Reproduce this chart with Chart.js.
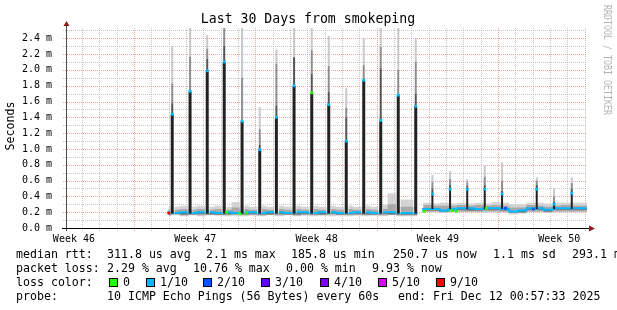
<!DOCTYPE html>
<html lang="en">
    <head>
        <meta charset="UTF-8" />
        <title>Last 30 Days from smokeping</title>
        <style>
            html,
            body {
                margin: 0;
                padding: 0;
                background: #fff;
            }

            canvas {
                display: block;
            }
        </style>
        <script src="https://cdn.jsdelivr.net/npm/chart.js"></script>
    </head>
    <body>
        <canvas id="chart" width="617" height="310"></canvas>
        <script>
            const FONT = "'DejaVu Sans Mono', monospace";

            // x is in days since the start of the 30 day window
            const weekTickDay = [0.4, 7.4, 14.4, 21.4, 28.4];
            const weekLabel = ["Week 46", "Week 47", "Week 48", "Week 49", "Week 50"];
            const yTickValue = [0, 0.2, 0.4, 0.6, 0.8, 1.0, 1.2, 1.4, 1.6, 1.8, 2.0, 2.2, 2.4];
            const yTickLabel = ["0.0 m", "0.2 m", "0.4 m", "0.6 m", "0.8 m", "1.0 m", "1.2 m", "1.4 m", "1.6 m", "1.8 m", "2.0 m", "2.2 m", "2.4 m"];

            // baseline smoke, one value per bin (bin starts at binDay, ms)
            const binDay = [5.85, 6.0, 6.5, 7.0, 7.5, 8.0, 8.5, 9.0, 9.5, 10.0,
                10.5, 11.0, 11.5, 12.0, 12.5, 13.0, 13.5, 14.0, 14.5, 15.0,
                15.5, 16.0, 16.5, 17.0, 17.5, 18.0, 18.5, 19.0, 19.5, 20.22,
                20.3, 20.55, 21.0, 21.5, 22.0, 22.5, 23.0, 23.5, 24.0, 24.5,
                25.0, 25.5, 26.0, 26.5, 27.0, 27.5, 28.0, 28.5, 29.0, 29.5, 30.0];
            const smokeHi = [0.25, 0.28, 0.27, 0.28, 0.27, 0.28, 0.27, 0.28, 0.27, 0.33,
                0.28, 0.27, 0.28, 0.27, 0.28, 0.27, 0.28, 0.27, 0.28, 0.27,
                0.28, 0.27, 0.28, 0.27, 0.28, 0.27, 0.29, 0.44, 0.36, 0.36,
                null, 0.29, 0.32, 0.31, 0.32, 0.31, 0.32, 0.31, 0.32, 0.31,
                0.33, 0.32, 0.30, 0.30, 0.32, 0.32, 0.31, 0.32, 0.32, 0.32, 0.32];
            const smokeLo = [0.16, 0.15, 0.16, 0.15, 0.16, 0.15, 0.16, 0.16, 0.15, 0.16,
                0.15, 0.16, 0.15, 0.16, 0.15, 0.16, 0.15, 0.16, 0.15, 0.16,
                0.15, 0.16, 0.15, 0.16, 0.15, 0.16, 0.15, 0.16, 0.15, 0.15,
                null, 0.19, 0.20, 0.20, 0.19, 0.20, 0.20, 0.20, 0.20, 0.20,
                0.20, 0.19, 0.17, 0.18, 0.20, 0.20, 0.19, 0.20, 0.20, 0.20, 0.20];
            const midHi = [0.22, 0.24, 0.23, 0.24, 0.23, 0.24, 0.23, 0.24, 0.23, 0.26,
                0.24, 0.23, 0.24, 0.23, 0.24, 0.23, 0.24, 0.23, 0.24, 0.23,
                0.24, 0.23, 0.24, 0.23, 0.24, 0.23, 0.24, 0.30, 0.27, 0.27,
                null, 0.25, 0.29, 0.28, 0.28, 0.28, 0.29, 0.28, 0.29, 0.28,
                0.29, 0.28, 0.26, 0.26, 0.29, 0.28, 0.27, 0.28, 0.29, 0.28, 0.28];
            const midLo = [0.17, 0.16, 0.17, 0.16, 0.17, 0.16, 0.17, 0.16, 0.17, 0.16,
                0.17, 0.16, 0.16, 0.17, 0.16, 0.17, 0.16, 0.16, 0.17, 0.16,
                0.17, 0.16, 0.17, 0.16, 0.17, 0.16, 0.16, 0.17, 0.16, 0.16,
                null, 0.20, 0.21, 0.21, 0.20, 0.21, 0.21, 0.21, 0.21, 0.21,
                0.21, 0.21, 0.19, 0.19, 0.21, 0.21, 0.20, 0.21, 0.21, 0.21, 0.21];
            const darkLo = [0.18, 0.17, 0.18, 0.17, 0.17, 0.18, 0.17, 0.17, 0.17, 0.18,
                0.17, 0.18, 0.17, 0.17, 0.18, 0.17, 0.17, 0.18, 0.17, 0.17,
                0.18, 0.17, 0.17, 0.18, 0.17, 0.17, 0.18, 0.17, 0.17, 0.17,
                null, 0.20, 0.22, 0.22, 0.21, 0.22, 0.23, 0.22, 0.22, 0.23,
                0.23, 0.22, 0.20, 0.20, 0.23, 0.23, 0.21, 0.23, 0.23, 0.23, 0.23];
            const median = [0.19, 0.20, 0.19, 0.20, 0.19, 0.20, 0.20, 0.19, 0.20, 0.19,
                0.20, 0.20, 0.19, 0.20, 0.20, 0.19, 0.20, 0.20, 0.19, 0.20,
                0.20, 0.19, 0.19, 0.20, 0.20, 0.19, 0.20, 0.20, 0.19, 0.19,
                null, 0.21, 0.24, 0.24, 0.22, 0.24, 0.25, 0.25, 0.24, 0.25,
                0.25, 0.24, 0.21, 0.22, 0.25, 0.25, 0.23, 0.25, 0.25, 0.25, 0.25];

            // daily spikes: base, median, and the smoke layers above it (ms)
            const spikeDay = [6.07, 7.1, 8.09, 9.07, 10.1, 11.12, 12.08, 13.1, 14.12, 15.1, 16.11, 17.12,
                18.1, 19.11, 20.12, 21.08, 22.1, 23.09, 24.1, 25.1, 27.1, 28.1, 29.12];
            const spikeBase = [0.18, 0.18, 0.18, 0.18, 0.18, 0.18, 0.18, 0.18, 0.18, 0.18, 0.18, 0.18,
                0.18, 0.18, 0.18, 0.24, 0.24, 0.24, 0.24, 0.24, 0.24, 0.24, 0.24];
            const spikeMedian = [1.44, 1.73, 1.99, 2.1, 1.35, 0.99, 1.4, 1.8, 1.71, 1.56, 1.1, 1.87,
                1.36, 1.68, 1.54, 0.43, 0.49, 0.49, 0.49, 0.43, 0.49, 0.3, 0.44];
            const spikeDark = [1.58, 1.73, 2.14, 2.3, 1.35, 1.05, 1.55, 2.16, 1.95, 1.72, 1.4, 1.87,
                2.02, 1.68, 1.7, 0.5, 0.55, 0.53, 0.55, 0.47, 0.55, 0.33, 0.5];
            const spikeMid = [1.83, 2.17, 2.27, 2.6, 1.9, 1.25, 2.08, 2.16, 2.25, 2.05, 1.52, 2.06,
                2.29, 2.0, 2.1, 0.58, 0.62, 0.58, 0.65, 0.6, 0.6, 0.4, 0.57];
            const spikeMax = [2.3, 2.6, 2.44, 2.6, 2.6, 1.53, 2.26, 2.6, 2.6, 2.43, 1.77, 2.4,
                2.6, 2.6, 2.4, 0.67, 0.72, 0.62, 0.79, 0.83, 0.64, 0.5, 0.64];
            const spikeLoss = ["1/10", "1/10", "1/10", "1/10", "1/10", "1/10", "1/10", "1/10", "0", "1/10", "1/10", "1/10",
                "1/10", "1/10", "1/10", "1/10", "1/10", "1/10", "1/10", "1/10", "1/10", "1/10", "1/10"];

            // spots where the median changes loss colour
            const lossDay = [5.87, 9.21, 9.98, 10.37, 20.6, 22.2, 22.45, 24.2, 25.3, 26.9];
            const lossValue = [0.19, 0.2, 0.18, 0.19, 0.21, 0.22, 0.21, 0.25, 0.25, 0.24];
            const lossLevel = ["9/10", "0", "0", "0", "0", "0", "0", "0", "2/10", "2/10"];

            // legend
            const lossLevels = ["0", "1/10", "2/10", "3/10", "4/10", "5/10", "9/10"];
            const lossColors = ["#26ff00", "#00b8ff", "#0059ff", "#5e00ff", "#7e00ff", "#dd00ff", "#ff0000"];
            const rttStats = ["311.8 us avg", "2.1 ms max", "185.8 us min", "250.7 us now", "1.1 ms sd", "293.1 m am/s"];
            const lossStats = ["2.29 % avg", "10.76 % max", "0.00 % min", "9.93 % now"];
            const probeText = "10 ICMP Echo Pings (56 Bytes) every 60s";
            const endText = "end: Fri Dec 12 00:57:33 2025";

            const colorOf = (lvl) => lossColors[lossLevels.indexOf(lvl)];

            function band(values, extra) {
                return Object.assign(
                    {
                        type: "line",
                        data: binDay.map((d, i) => ({ x: d, y: values[i] })),
                        stepped: "after",
                        pointRadius: 0,
                        borderWidth: 0,
                        borderColor: "transparent",
                        fill: false,
                    },
                    extra
                );
            }

            function spikeLayer(from, to, color, width, keep, extra) {
                const data = [];
                spikeDay.forEach((d, i) => {
                    if (keep(d)) data.push({ x: d, y: [from[i], to[i]] });
                });
                return Object.assign(
                    {
                        type: "bar",
                        data: data,
                        backgroundColor: color,
                        barThickness: width,
                        grouped: false,
                        inflateAmount: 0,
                        borderWidth: 0,
                        clip: 0,
                    },
                    extra
                );
            }

            const all = () => true;
            const datasets = [
                band(smokeLo, { order: 30 }),
                band(smokeHi, { order: 30, fill: "-1", backgroundColor: "#d3d3d3" }),
                band(midLo, { order: 29 }),
                band(midHi, { order: 29, fill: "-1", backgroundColor: "#a9a9a9" }),
                band(darkLo, { order: 28 }),
                band(median, { order: 28, fill: "-1", backgroundColor: "#6c6c6c" }),
                band(median, { order: 27, borderColor: "#00b8ff", borderWidth: 2 }),
                spikeLayer(spikeMedian, spikeDark, "#555555", 2, all, { order: 6 }),
                spikeLayer(spikeDark, spikeMid, "#8e8e8e", 2, all, { order: 6 }),
                spikeLayer(spikeMid, spikeMax, "#c8c8c8", 2, all, { order: 6 }),
                // spikes in weeks 47/48 sit in a small white gap
                spikeLayer(spikeBase, spikeMedian, "#222222", 5, (d) => d < 20.5, {
                    order: 5,
                    borderColor: "#ffffff",
                    borderWidth: { left: 1, right: 1, top: 0, bottom: 0 },
                    borderSkipped: false,
                }),
                spikeLayer(spikeBase, spikeMedian, "#222222", 2, (d) => d > 20.5, { order: 5 }),
                {
                    type: "line",
                    order: 1,
                    data: lossDay.map((d, i) => ({ x: d, y: lossValue[i] })),
                    showLine: false,
                    pointStyle: "rect",
                    pointRadius: 2,
                    pointBorderWidth: 0,
                    pointBackgroundColor: lossLevel.map(colorOf),
                },
                {
                    type: "line",
                    order: 0,
                    data: spikeDay.map((d, i) => ({ x: d, y: spikeMedian[i] })),
                    showLine: false,
                    pointStyle: "rect",
                    pointRadius: 2,
                    pointBorderWidth: 0,
                    pointBackgroundColor: spikeLoss.map(colorOf),
                },
            ];

            function line(ctx, x1, y1, x2, y2) {
                ctx.beginPath();
                ctx.moveTo(x1, y1);
                ctx.lineTo(x2, y2);
                ctx.stroke();
            }

            const rrdLook = {
                id: "rrdLook",
                beforeDatasetsDraw(chart) {
                    const { ctx, chartArea: a } = chart;
                    const xs = chart.scales.x;
                    const ys = chart.scales.y;
                    ctx.save();
                    ctx.lineWidth = 1;
                    ctx.setLineDash([1, 1]);

                    // minor grid: every 0.1 ms and every day
                    ctx.strokeStyle = "rgba(160,160,160,0.6)";
                    for (let k = 1; k <= 25; k += 2) {
                        const py = Math.round(ys.getPixelForValue(k / 10)) + 0.5;
                        line(ctx, a.left - 4, py, a.right, py);
                    }
                    for (let d = 0.87; d < 30; d += 1) {
                        if (Math.round(d - 3.87) % 7 === 0) continue;
                        const px = Math.round(xs.getPixelForValue(d)) + 0.5;
                        line(ctx, px, a.top, px, a.bottom + 3);
                    }

                    // major grid: labelled values and week starts
                    ctx.strokeStyle = "rgba(235,90,90,0.55)";
                    yTickValue.slice(1).forEach((v) => {
                        const py = Math.round(ys.getPixelForValue(v)) + 0.5;
                        line(ctx, a.left - 4, py, a.right, py);
                    });
                    for (let d = 3.87; d < 30; d += 7) {
                        const px = Math.round(xs.getPixelForValue(d)) + 0.5;
                        line(ctx, px, a.top, px, a.bottom + 3);
                    }
                    ctx.restore();
                },
                afterDatasetsDraw(chart) {
                    const { ctx, chartArea: a } = chart;
                    ctx.save();
                    ctx.lineWidth = 1;
                    ctx.strokeStyle = "#505050";
                    line(ctx, a.left - 0.5, a.top - 3, a.left - 0.5, a.bottom + 3);
                    ctx.strokeStyle = "#000";
                    line(ctx, a.left - 5, a.bottom + 0.5, a.right + 2, a.bottom + 0.5);

                    ctx.fillStyle = "#8b1a1a";
                    ctx.beginPath();
                    ctx.moveTo(a.left - 0.5, a.top - 7);
                    ctx.lineTo(a.left - 3.5, a.top - 2);
                    ctx.lineTo(a.left + 2.5, a.top - 2);
                    ctx.fill();
                    ctx.beginPath();
                    ctx.moveTo(a.right + 8, a.bottom + 0.5);
                    ctx.lineTo(a.right + 2, a.bottom - 2.5);
                    ctx.lineTo(a.right + 2, a.bottom + 3.5);
                    ctx.fill();
                    ctx.restore();
                },
                afterDraw(chart) {
                    const ctx = chart.ctx;
                    ctx.save();
                    ctx.fillStyle = "#000";
                    ctx.textBaseline = "middle";
                    ctx.textAlign = "center";
                    ctx.font = "13.2px " + FONT;
                    ctx.fillText("Last 30 Days from smokeping", 308, 19.5);

                    ctx.save();
                    ctx.translate(11, 126);
                    ctx.rotate(-Math.PI / 2);
                    ctx.font = "11.6px " + FONT;
                    ctx.fillText("Seconds", 0, 0);
                    ctx.restore();

                    ctx.save();
                    ctx.translate(607, 60);
                    ctx.rotate(Math.PI / 2);
                    ctx.scale(0.83, 1);
                    ctx.fillStyle = "#b4b4b4";
                    ctx.font = "10px " + FONT;
                    ctx.fillText("RRDTOOL / TOBI OETIKER", 0, 0);
                    ctx.restore();

                    ctx.textAlign = "left";
                    ctx.font = "11.6px " + FONT;
                    const rttX = [107, 206, 291, 393, 493, 572];
                    const lossX = [107, 193, 286, 372];
                    const boxX = [109, 146, 203, 261, 320, 378, 436];

                    ctx.fillText("median rtt:", 16, 254.5);
                    rttStats.forEach((s, i) => ctx.fillText(s, rttX[i], 254.5));
                    ctx.fillText("packet loss:", 16, 268.5);
                    lossStats.forEach((s, i) => ctx.fillText(s, lossX[i], 268.5));
                    ctx.fillText("loss color:", 16, 282.5);
                    lossLevels.forEach((s, i) => {
                        ctx.fillStyle = lossColors[i];
                        ctx.fillRect(boxX[i], 278, 8, 9);
                        ctx.strokeStyle = "#000";
                        ctx.lineWidth = 1;
                        ctx.strokeRect(boxX[i] + 0.5, 278.5, 8, 8);
                        ctx.fillStyle = "#000";
                        ctx.fillText(s, boxX[i] + 14, 282.5);
                    });
                    ctx.fillText("probe:", 16, 297);
                    ctx.fillText(probeText, 107, 297);
                    ctx.fillText(endText, 398, 297);
                    ctx.restore();
                },
            };

            new Chart(document.getElementById("chart"), {
                type: "line",
                data: { datasets: datasets },
                options: {
                    responsive: false,
                    animation: false,
                    events: [],
                    layout: {
                        padding: { left: 0, right: 30, top: 28, bottom: 62 },
                        autoPadding: false,
                    },
                    plugins: {
                        legend: { display: false },
                        tooltip: { enabled: false },
                    },
                    scales: {
                        x: {
                            type: "linear",
                            min: 0,
                            max: 30,
                            offset: false,
                            grid: { display: false },
                            border: { display: false },
                            afterBuildTicks: (s) => {
                                s.ticks = weekTickDay.map((v) => ({ value: v }));
                            },
                            afterFit: (s) => {
                                s.height = 20;
                            },
                            ticks: {
                                autoSkip: false,
                                maxRotation: 0,
                                minRotation: 0,
                                padding: -3,
                                color: "#000",
                                font: { family: FONT, size: 10 },
                                callback: (v, i) => weekLabel[i],
                            },
                        },
                        y: {
                            type: "linear",
                            min: 0,
                            max: 2.53,
                            grid: { display: false },
                            border: { display: false },
                            afterBuildTicks: (s) => {
                                s.ticks = yTickValue.map((v) => ({ value: v }));
                            },
                            afterFit: (s) => {
                                s.width = 67;
                            },
                            ticks: {
                                padding: 7,
                                color: "#000",
                                font: { family: FONT, size: 10 },
                                callback: (v, i) => yTickLabel[i],
                            },
                        },
                    },
                },
                plugins: [rrdLook],
            });
        </script>
    </body>
</html>
